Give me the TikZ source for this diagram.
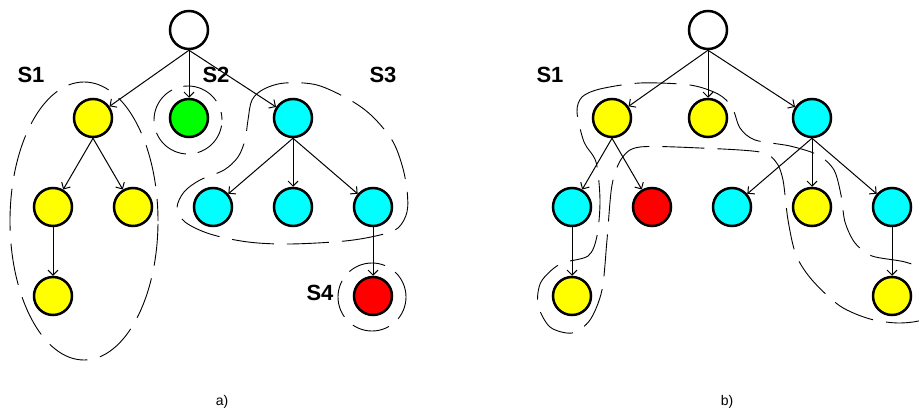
\documentclass[tikz,border=0pt]{standalone}
\usepackage{fontspec}
\setmainfont{Liberation Sans}
\usetikzlibrary{arrows.meta}
\definecolor{cyel}{RGB}{255,255,0}
\definecolor{cgrn}{RGB}{0,255,0}
\definecolor{ccyn}{RGB}{0,255,255}
\definecolor{cred}{RGB}{255,0,0}
\tikzset{
  vert/.style={circle, draw=black, line width=2.5pt, minimum size=38pt, inner sep=0pt},
  edge/.style={line width=1pt, -{Straight Barb[length=5pt,width=10pt,line width=1pt]}},
  grp/.style={line width=0.9pt, dash pattern=on 42pt off 13pt},
  lbl/.style={font=\fontsize{22}{24}\selectfont\bfseries, inner sep=0pt},
  captext/.style={font=\fontsize{14}{16}\selectfont, inner sep=0pt}
}
\begin{document}
\begin{tikzpicture}[x=1pt,y=-1pt]
\useasboundingbox (0,0) rectangle (919,412);
\fill[white] (0,0) rectangle (919,412);
\begin{scope}
\clip (0,0) rectangle (919,412);
% ---------- panel a ----------
\node[vert, fill=white] (aR) at (189,30) {};
\node[vert, fill=cyel] (aY1) at (93,118) {};
\node[vert, fill=cgrn] (aG) at (189,118) {};
\node[vert, fill=ccyn] (aC1) at (293,118) {};
\node[vert, fill=cyel] (aY2) at (53,207) {};
\node[vert, fill=cyel] (aY3) at (133,207) {};
\node[vert, fill=ccyn] (aC2) at (213,207) {};
\node[vert, fill=ccyn] (aC3) at (293,207) {};
\node[vert, fill=ccyn] (aC4) at (373,207) {};
\node[vert, fill=cyel] (aY4) at (53,296) {};
\node[vert, fill=cred] (aRd) at (373,296) {};
\draw[edge] (aR.south) -- (aY1);
\draw[edge] (aR.south) -- (aG);
\draw[edge] (aR.south) -- (aC1);
\draw[edge] (aY1.south) -- (aY2);
\draw[edge] (aY1.south) -- (aY3);
\draw[edge] (aY2.south) -- (aY4);
\draw[edge] (aC1.south) -- (aC2);
\draw[edge] (aC1.south) -- (aC3);
\draw[edge] (aC1.south) -- (aC4);
\draw[edge] (aC4.south) -- (aRd);
% groups a
\draw[grp, dash phase=20pt] (84,221) ellipse [x radius=74pt, y radius=139pt];
\draw[grp, dash pattern=on 38pt off 12pt, dash phase=30pt] (188,120) circle [radius=34pt];
\draw[grp, dash pattern=on 38pt off 12pt, dash phase=10pt] (372,297) circle [radius=34pt];
\draw[grp] plot[smooth cycle, tension=0.55] coordinates {
  (248,120) (252,100) (264,89) (285,83) (317,85) (350,100) (372,116)
  (392,140) (402,165) (407,190) (407,212) (398,228) (380,235) (345,241)
  (290,244) (248,242) (210,234) (185,222) (177,208) (184,192) (200,180)
  (224,170) (238,157) (245,140)};
\node[lbl] (aS1) at (31,75) {S1};
\node[lbl] (aS2) at (216,75) {S2};
\node[lbl] (aS3) at (383,75) {S3};
\node[lbl] (aS4) at (320,293) {S4};
\node[captext] (acap) at (222,402) {a)};
% ---------- panel b ----------
\node[vert, fill=white] (bR) at (708,30) {};
\node[vert, fill=cyel] (bY1) at (612,118) {};
\node[vert, fill=cyel] (bY2) at (708,118) {};
\node[vert, fill=ccyn] (bC1) at (812,118) {};
\node[vert, fill=ccyn] (bC2) at (572,207) {};
\node[vert, fill=cred] (bRd) at (652,207) {};
\node[vert, fill=ccyn] (bC3) at (732,207) {};
\node[vert, fill=cyel] (bY3) at (812,207) {};
\node[vert, fill=ccyn] (bC4) at (892,207) {};
\node[vert, fill=cyel] (bY4) at (572,296) {};
\node[vert, fill=cyel] (bY5) at (892,296) {};
\draw[edge] (bR.south) -- (bY1);
\draw[edge] (bR.south) -- (bY2);
\draw[edge] (bR.south) -- (bC1);
\draw[edge] (bY1.south) -- (bC2);
\draw[edge] (bY1.south) -- (bRd);
\draw[edge] (bC2.south) -- (bY4);
\draw[edge] (bC1.south) -- (bC3);
\draw[edge] (bC1.south) -- (bY3);
\draw[edge] (bC1.south) -- (bC4);
\draw[edge] (bC4.south) -- (bY5);
\draw[grp] plot[smooth cycle, tension=0.5] coordinates {
  (577,112) (582,97) (600,89) (640,83) (690,85) (718,94) (732,107)
  (740,128) (755,140) (790,146) (818,155) (834,170) (841,195) (845,222)
  (855,243) (872,256) (905,262) (928,272) (936,296) (926,318) (900,323)
  (870,319) (840,306) (812,280) (796,255) (788,220) (783,180) (776,162)
  (760,152) (700,148) (640,147) (622,158) (612,185) (607,240) (602,290)
  (590,320) (572,333) (550,327) (538,305) (541,282) (560,264) (588,256)
  (597,236) (600,200) (596,162) (584,142)};
\node[lbl] (bS1) at (550,75) {S1};
\node[captext] (bcap) at (727,402) {b)};
\end{scope}
\end{tikzpicture}
\end{document}
